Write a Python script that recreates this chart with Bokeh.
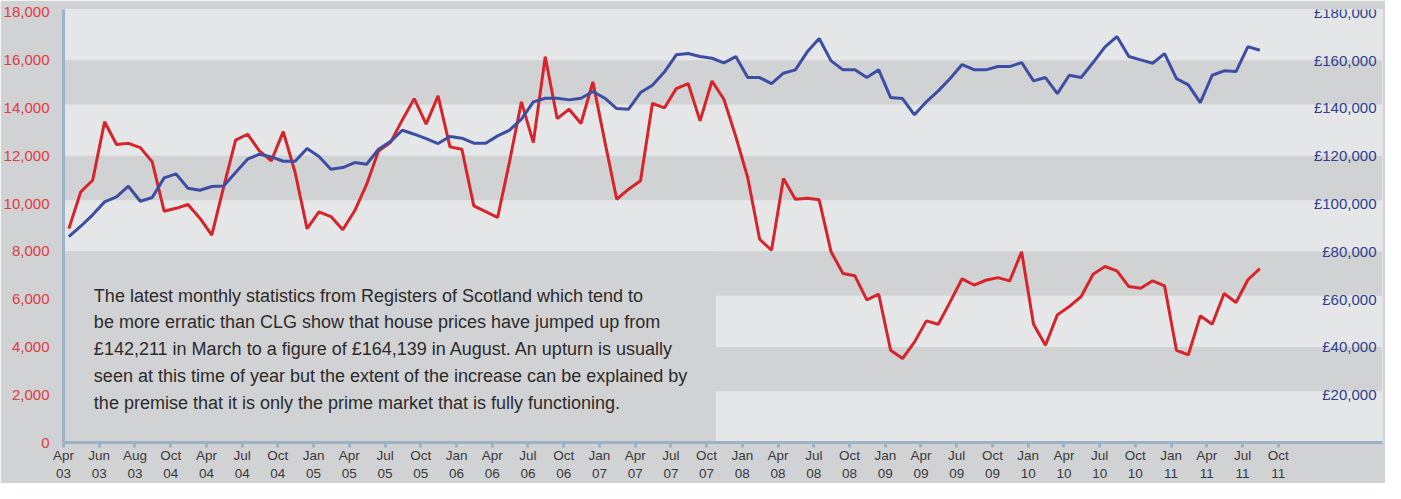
from bokeh.plotting import figure
from bokeh.models import Range1d, FixedTicker, NumeralTickFormatter, BoxAnnotation, ColumnDataSource
from bokeh.core.properties import value
from bokeh.embed import file_html
from bokeh.resources import INLINE

# ---- data (monthly, Apr 2003 .. Aug 2011) ----
month_index = list(range(101))
transactions = [
    8950, 10490, 10975, 13420, 12470, 12520, 12340, 11745, 9680, 9800,
    9960, 9385, 8675, 10700, 12650, 12900, 12200, 11785, 13010, 11300,
    8950, 9650, 9455, 8900, 9695, 10800, 12200, 12550, 13500, 14390,
    13320, 14505, 12370, 12270, 9900, 9665, 9415, 11750, 14255, 12550,
    16140, 13555, 13945, 13350, 15090, 12600, 10180, 10600, 10950, 14195,
    14000, 14810, 15020, 13460, 15130, 14365, 12800, 11090, 8505, 8045,
    11045, 10180, 10220, 10155, 7980, 7070, 6975, 5970, 6205, 3860,
    3515, 4200, 5090, 4950, 5885, 6850, 6590, 6790, 6900, 6765,
    7980, 4950, 4070, 5340, 5690, 6110, 7040, 7365, 7185, 6525,
    6455, 6765, 6555, 3860, 3670, 5300, 4950, 6235, 5860, 6810,
    7280,
]
prices = [
    86190, 90500, 95270, 100700, 102800, 107240, 100970, 102510, 110750, 112420,
    106420, 105580, 107110, 107390, 112970, 118540, 120630, 119540, 117700, 117700,
    123010, 119670, 114360, 115060, 117150, 116450, 122730, 125940, 130680, 129010,
    127200, 125110, 128030, 127330, 125240, 125240, 128310, 130680, 135290, 142550,
    144070, 144070, 143380, 144070, 146860, 144070, 139750, 139470, 146440, 149500,
    155000, 162220, 162760, 161510, 160800, 158870, 161510, 152720, 152720, 150210,
    154530, 155940, 163470, 169040, 159690, 155940, 155940, 152720, 155940, 144350,
    143930, 137110, 142550, 147140, 152300, 158150, 156000, 155940, 157320, 157320,
    159000, 151340, 152720, 146020, 153690, 152720, 159000, 165560, 169870, 161510,
    160110, 158720, 162760, 152300, 149650, 142211, 153690, 155520, 155230, 165690,
    164139,
]
tick_labels = [
    "Apr\n03", "Jun\n03", "Aug\n03", "Oct\n04", "Apr\n04", "Jul\n04", "Oct\n04",
    "Jan\n05", "Apr\n05", "Jul\n05", "Oct\n05", "Jan\n06", "Apr\n06", "Jul\n06",
    "Oct\n06", "Jan\n07", "Apr\n07", "Jul\n07", "Oct\n07", "Jan\n08", "Apr\n08",
    "Jul\n08", "Oct\n08", "Jan\n09", "Apr\n09", "Jul\n09", "Oct\n09", "Jan\n10",
    "Apr\n10", "Jul\n10", "Oct\n10", "Jan\n11", "Apr\n11", "Jul\n11", "Oct\n11",
]
left_ticks = [0, 2000, 4000, 6000, 8000, 10000, 12000, 14000, 16000, 18000]
right_ticks = [20000, 40000, 60000, 80000, 100000, 120000, 140000, 160000, 180000]
note_lines = [
    "The latest monthly statistics from Registers of Scotland which tend to",
    "be more erratic than CLG show that house prices have jumped up from",
    "\u00a3142,211 in March to a figure of \u00a3164,139 in August. An upturn is usually",
    "seen at this time of year but the extent of the increase can be explained by",
    "the premise that it is only the prime market that is fully functioning.",
]

# ---- styling ----
DARK = "#d1d2d4"
LIGHT = "#e5e6e8"
AXIS = "#9cb2c8"
RED = "#d7242b"
BLUE = "#3b4ea3"
FONT = "Liberation Sans"

X0, X1 = -0.45, 110.3
p = figure(width=1385, height=483, output_backend="svg", toolbar_location=None,
           x_range=Range1d(X0, X1), y_range=Range1d(0, 18120),
           min_border_left=57, min_border_right=3, min_border_top=9, min_border_bottom=41,
           background_fill_color=LIGHT, border_fill_color=DARK, outline_line_color=None)
p.extra_y_ranges = {"price": Range1d(0, 181200)}
p.grid.visible = False

# alternating bands
for top in (16000, 12000, 8000, 4000):
    p.add_layout(BoxAnnotation(bottom=top - 1860, top=top, fill_color=DARK, fill_alpha=1,
                               line_color=None, level="underlay"))
# text panel
p.add_layout(BoxAnnotation(right=54.33, bottom=0, top=8000, fill_color=DARK, fill_alpha=1,
                           line_color=None, level="underlay"))

src = ColumnDataSource(dict(x=month_index, t=transactions, pr=prices))
p.line("x", "t", source=src, line_color=RED, line_width=3)
p.line("x", "pr", source=src, line_color=BLUE, line_width=3, y_range_name="price")

# left axis
ya = p.yaxis[0]
ya.ticker = FixedTicker(ticks=left_ticks)
ya.formatter = NumeralTickFormatter(format="0,0")
ya.axis_line_color = AXIS
ya.axis_line_width = 3
ya.major_tick_line_color = None
ya.minor_tick_line_color = None
ya.major_label_text_color = "#e03a3e"
ya.major_label_text_font = FONT
ya.major_label_text_font_size = "15px"
ya.major_label_standoff = 8

# bottom axis
xticks = [round(3 * k - 0.45, 2) for k in range(len(tick_labels))]
xa = p.xaxis[0]
xa.ticker = FixedTicker(ticks=xticks)
xa.major_label_overrides = {t: lab for t, lab in zip(xticks, tick_labels)}
xa.axis_line_color = AXIS
xa.axis_line_width = 3
xa.major_tick_line_color = AXIS
xa.major_tick_line_width = 3
xa.major_tick_out = 5
xa.major_tick_in = 0
xa.minor_tick_line_color = None
xa.major_label_text_color = "#3a3a3a"
xa.major_label_text_font = FONT
xa.major_label_text_font_size = "13.5px"
xa.major_label_standoff = 0

# right-hand price labels (drawn inside the frame as in the original)
p.text(x=[X1] * len(right_ticks), y=right_ticks,
       text=["\u00a3{:,}".format(v) for v in right_ticks],
       y_range_name="price", x_offset=-6, text_align="right", text_baseline="middle",
       text_font=value(FONT), text_font_size="15px", text_color="#2d3f8e")

# note text
p.text(x=[2.1] * len(note_lines), y=[6150 - 1121 * k for k in range(len(note_lines))],
       text=note_lines, text_align="left", text_baseline="middle",
       text_font=value(FONT), text_font_size="18px", text_color="#2b2b2b")

open("out.html", "w").write(file_html(p, INLINE))
